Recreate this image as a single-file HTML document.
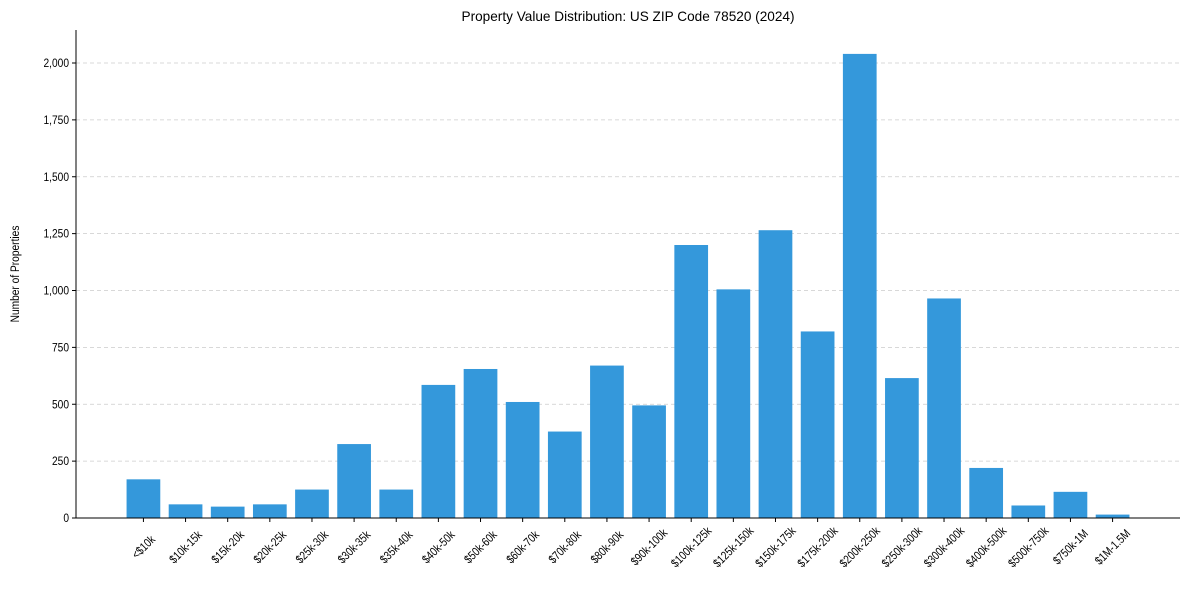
<!DOCTYPE html>
<html><head><meta charset="utf-8"><style>
body{margin:0;background:#fff}
svg text{font-family:"Liberation Sans Narrow","Liberation Sans",Arial,sans-serif;fill:#000}
</style></head><body>
<svg id="c" width="1189" height="590"></svg>
<script>
const categories=["<$10k","$10k-15k","$15k-20k","$20k-25k","$25k-30k","$30k-35k","$35k-40k","$40k-50k","$50k-60k","$60k-70k","$70k-80k","$80k-90k","$90k-100k","$100k-125k","$125k-150k","$150k-175k","$175k-200k","$200k-250k","$250k-300k","$300k-400k","$400k-500k","$500k-750k","$750k-1M","$1M-1.5M"];
const counts=[170,60,50,60,125,325,125,585,655,510,380,670,495,1200,1005,1265,820,2040,615,965,220,55,115,15];
const yTicks=[0,250,500,750,1000,1250,1500,1750,2000];
const yTickLabels=["0","250","500","750","1,000","1,250","1,500","1,750","2,000"];
const NS="http://www.w3.org/2000/svg";
const svg=document.getElementById('c');
const L=76,R=1180,T=30,B=518;
const n=categories.length;
const xmin=-1.6,xmax=n-1+1.6;
const x=i=>L+(i-xmin)/(xmax-xmin)*(R-L);
const step=(R-L)/(xmax-xmin);
const y=v=>B-v*0.2275;
function mk(t,a){const e=document.createElementNS(NS,t);for(const k in a)e.setAttribute(k,a[k]);svg.appendChild(e);return e;}
const title=mk('text',{x:628,y:21,'text-anchor':'middle','font-size':14,textLength:333,lengthAdjust:'spacingAndGlyphs'});
title.textContent="Property Value Distribution: US ZIP Code 78520 (2024)";


yTicks.forEach((v,i)=>{
  if(v>0){const g=mk('line',{x1:L,x2:R,y1:y(v),y2:y(v),stroke:'#ccc','stroke-dasharray':'4,3','stroke-width':0.8});
  
  }
  const tk=mk('line',{x1:L-4,x2:L,y1:y(v),y2:y(v),stroke:'#000'});
  
  
  const t=mk('text',{x:0,y:0,'text-anchor':'end','font-size':12,transform:`translate(${L-7} ${y(v)+4}) scale(0.85 1)`});
  t.textContent=yTickLabels[i];
  
  
});
counts.forEach((v,i)=>{
  const w=step*0.8;
  const b=mk('rect',{x:x(i)-w/2,y:y(v),width:w,height:B-y(v),fill:'#3498db'});
  
  
  const tk=mk('line',{x1:x(i),x2:x(i),y1:B,y2:B+4,stroke:'#000'});
  
  
  const cy=B+29;
  const t=mk('text',{x:0,y:4,'text-anchor':'middle','font-size':12,transform:`translate(${x(i)} ${cy}) rotate(-45) scale(0.82 1)`});
  t.textContent=categories[i];
  
  
});
const ax1=mk('line',{x1:L,x2:L,y1:T,y2:B,stroke:'#000'});


const ax2=mk('line',{x1:L,x2:R,y1:B,y2:B,stroke:'#000'});


const yl=mk('text',{x:0,y:0,'text-anchor':'middle','font-size':12,transform:'translate(19 274) rotate(-90) scale(0.85 1)'});
yl.textContent="Number of Properties";


</script>
</body></html>
